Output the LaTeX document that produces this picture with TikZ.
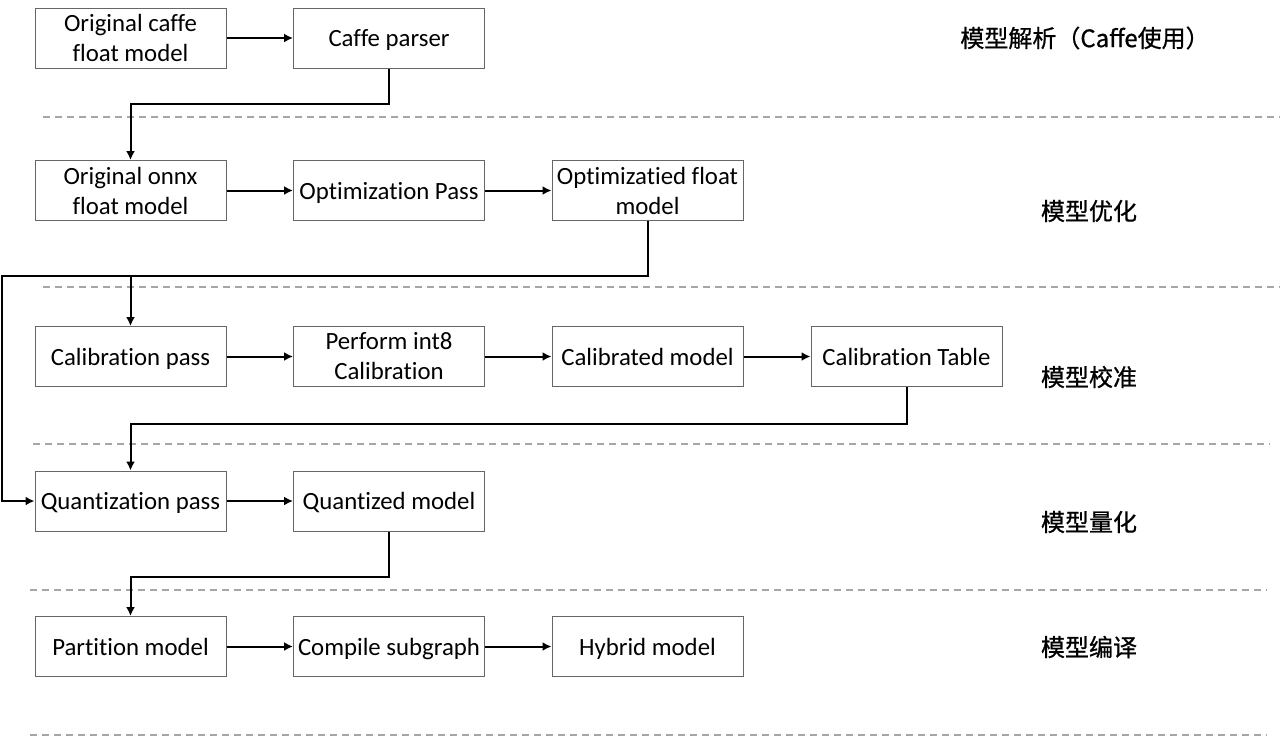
\documentclass[tikz,border=0pt]{standalone}
\usepackage{fontspec}
\setmainfont{Carlito}[Ligatures=NoCommon]
\newfontfamily\cjk{Noto Sans CJK SC}[FakeBold=0.8]
\usetikzlibrary{positioning,arrows.meta}
\tikzset{>={Latex[length=4.5pt,width=4.5pt]}}
\tikzset{
  stage/.style={draw=black!60, line width=0.5pt, minimum width=95.5pt, minimum height=30pt, inner sep=1pt, align=center, font=\fontsize{12.4}{15}\selectfont},
  single/.style={stage, text height=9.5pt, text depth=1pt},
  phase/.style={font=\cjk\fontsize{12}{15}\selectfont},
  flow/.style={->, line width=1pt},
  sep/.style={draw=black!35, line width=0.8pt, dash pattern=on 3.5pt off 2.5pt}
}

\begin{document}
\begin{tikzpicture}[x=0.5pt, y=-0.5pt]
  \useasboundingbox (0,0) rectangle (1280,736);
  % parse
  \node[stage] (n11) at (130.5,38) {Original caffe\\float model};
  \node[single, right of=n11, node distance=129.25pt] (n12) {Caffe parser};
  % optimize
  \node[stage] (n21) at (130.5,190.5) {Original onnx\\float model};
  \node[single, right of=n21, node distance=129.25pt] (n22) {Optimization Pass};
  \node[stage, right of=n22, node distance=129.25pt] (n23) {Optimizatied float\\model};
  % calibrate
  \node[single] (n31) at (130.5,356.5) {Calibration pass};
  \node[stage, right of=n31, node distance=129.25pt] (n32) {Perform int8\\Calibration};
  \node[single, right of=n32, node distance=129.25pt] (n33) {Calibrated model};
  \node[single, right of=n33, node distance=129.5pt] (n34) {Calibration Table};
  % quantize
  \node[single] (n41) at (130.5,501) {Quantization pass};
  \node[single, right of=n41, node distance=129.25pt] (n42) {Quantized model};
  % compile
  \node[single] (n51) at (130.5,646.5) {Partition model};
  \node[single, right of=n51, node distance=129.25pt] (n52) {Compile subgraph};
  \node[single, right of=n52, node distance=129.25pt] (n53) {Hybrid model};

  \node[phase] (p1) at (1085,38) {模型解析（Caffe使用）};
  \node[phase] (p2) at (1089,211) {模型优化};
  \node[phase] (p3) at (1089,377) {模型校准};
  \node[phase] (p4) at (1089,522) {模型量化};
  \node[phase] (p5) at (1089,647) {模型编译};

  \draw[sep] (43,117) -- (1280,117);
  \draw[sep] (43,287) -- (1280,287);
  \draw[sep] (33,444) -- (1270,444);
  \draw[sep] (30,590) -- (1267,590);
  \draw[sep] (30,735) -- (1267,735);

  \coordinate[below of=n12, node distance=33pt] (aux1);
  \coordinate[below of=n23, node distance=42.75pt] (aux2);
  \coordinate (aux3) at (2,276);
  \coordinate[below of=n34, node distance=33.75pt] (aux4);
  \coordinate[below of=n42, node distance=38pt] (aux5);

  \draw[flow] (n11) to (n12);
  \draw[flow] (n21) to (n22);
  \draw[flow] (n22) to (n23);
  \draw[flow] (n31) to (n32);
  \draw[flow] (n32) to (n33);
  \draw[flow] (n33) to (n34);
  \draw[flow] (n41) to (n42);
  \draw[flow] (n51) to (n52);
  \draw[flow] (n52) to (n53);
  \draw[flow] (n12.south) to (aux1) -| (n21.north);
  \draw[flow] (n23.south) to (aux2) -- (aux3) |- (n41.west);
  \draw[flow] (aux2) -| (n31.north);
  \draw[flow] (n34.south) to (aux4) -| (n41.north);
  \draw[flow] (n42.south) to (aux5) -| (n51.north);
\end{tikzpicture}
\end{document}
